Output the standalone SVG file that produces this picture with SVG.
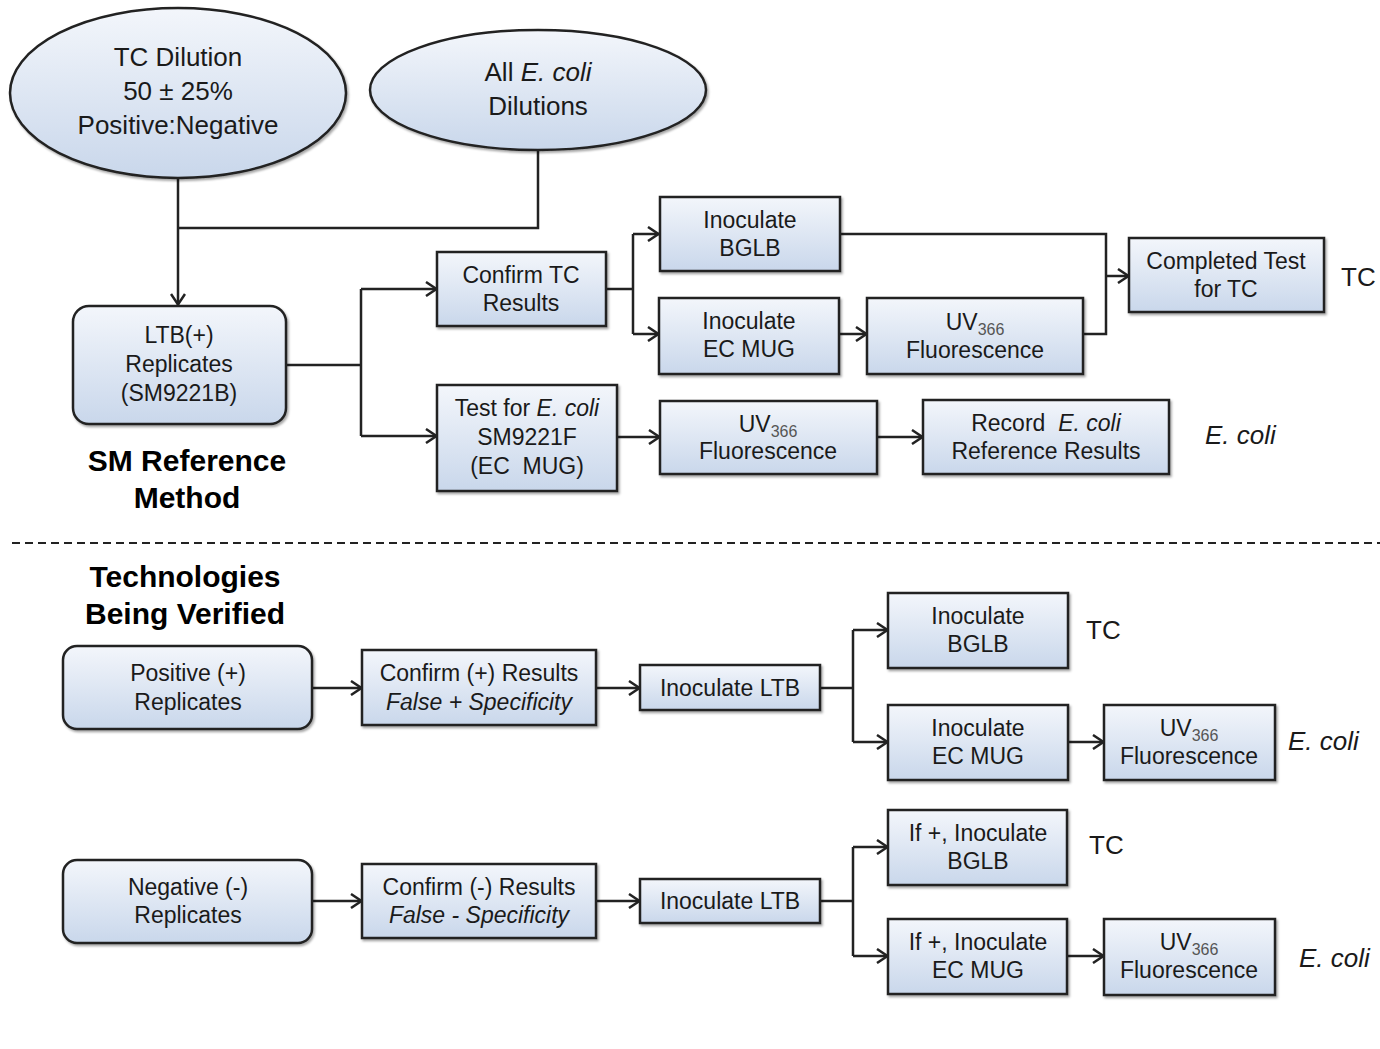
<svg xmlns="http://www.w3.org/2000/svg" width="1380" height="1049" viewBox="0 0 1380 1049">
<defs>
<linearGradient id="g" x1="0" y1="0" x2="0" y2="1">
<stop offset="0" stop-color="#f3f6fb"/>
<stop offset="1" stop-color="#c9d7eb"/>
</linearGradient>
<filter id="sh" x="-10%" y="-10%" width="125%" height="130%">
<feDropShadow dx="1.5" dy="2" stdDeviation="1.2" flood-color="#000" flood-opacity="0.35"/>
</filter>
<marker id="ah" viewBox="0 0 14 16" refX="12.5" refY="8" markerWidth="14" markerHeight="16" markerUnits="userSpaceOnUse" orient="auto">
<path d="M1.5,1 L12,8 L1.5,15" fill="none" stroke="#222" stroke-width="2.5"/>
</marker>
</defs>
<style>
.n{fill:url(#g);stroke:#222;stroke-width:2.5;filter:url(#sh)}
text{font-family:"Liberation Sans",Arial,sans-serif;fill:#1a1a1a;text-anchor:middle}
.t{font-size:23px}
.e{font-size:26px}
.h{font-size:30px;font-weight:bold;fill:#000}
.l{font-size:26px;text-anchor:start}
.c line,.c path{stroke:#222;stroke-width:2.5;fill:none}
.a{marker-end:url(#ah)}
.s{font-size:16px;fill:#555}
</style>
<rect width="1380" height="1049" fill="#fff"/>

<g class="c" id="connectors">
<path d="M178,178 V305" class="a"/>
<path d="M538,150 V228 H178"/>
<path d="M286,365 H361 M361,289 V436"/>
<path d="M361,289 H437" class="a"/>
<path d="M361,436 H437" class="a"/>
<path d="M606,289 H633 M633,234 V334"/>
<path d="M633,234 H659" class="a"/>
<path d="M633,334 H659" class="a"/>
<path d="M839,334 H867" class="a"/>
<path d="M840,234 H1106 V334 H1083"/>
<path d="M1106,276 H1129" class="a"/>
<path d="M617,437 H660" class="a"/>
<path d="M877,437 H923" class="a"/>
<line x1="12" y1="543" x2="1380" y2="543" stroke-dasharray="8,5" style="stroke-width:2"/>
<path d="M312,688 H362" class="a"/>
<path d="M596,688 H640" class="a"/>
<path d="M820,688 H853 M853,630 V742"/>
<path d="M853,630 H888" class="a"/>
<path d="M853,742 H888" class="a"/>
<path d="M1068,742 H1104" class="a"/>
<path d="M312,901 H362" class="a"/>
<path d="M596,901 H640" class="a"/>
<path d="M820,901 H853 M853,847 V956"/>
<path d="M853,847 H888" class="a"/>
<path d="M853,956 H888" class="a"/>
<path d="M1067,956 H1104" class="a"/>
</g>

<g id="tc-dilution"><ellipse class="n" cx="178" cy="93" rx="168" ry="85"/>
<text class="e" x="178" y="66">TC Dilution</text><text class="e" x="178" y="100">50 ± 25%</text><text class="e" x="178" y="134">Positive:Negative</text></g>
<g id="ecoli-dilutions"><ellipse class="n" cx="538" cy="90" rx="168" ry="60"/>
<text class="e" x="538" y="81">All <tspan font-style="italic">E. coli</tspan></text><text class="e" x="538" y="115">Dilutions</text></g>

<g id="ltb"><rect class="n" x="73" y="306" width="213" height="118" rx="16"/>
<text class="t" x="179" y="343">LTB(+)</text><text class="t" x="179" y="372">Replicates</text><text class="t" x="179" y="401">(SM9221B)</text></g>
<g id="sm-label"><text class="h" x="187" y="471">SM Reference</text><text class="h" x="187" y="508">Method</text></g>

<g id="confirm-tc"><rect class="n" x="437" y="252" width="169" height="74"/>
<text class="t" x="521" y="283">Confirm TC</text><text class="t" x="521" y="311">Results</text></g>
<g id="test-ecoli"><rect class="n" x="437" y="385" width="180" height="106"/>
<text class="t" x="527" y="416">Test for <tspan font-style="italic">E. coli</tspan></text><text class="t" x="527" y="445">SM9221F</text><text class="t" x="527" y="474">(EC&#160; MUG)</text></g>
<g id="bglb1"><rect class="n" x="660" y="197" width="180" height="74"/>
<text class="t" x="750" y="228">Inoculate</text><text class="t" x="750" y="256">BGLB</text></g>
<g id="ecmug1"><rect class="n" x="659" y="298" width="180" height="76"/>
<text class="t" x="749" y="329">Inoculate</text><text class="t" x="749" y="357">EC MUG</text></g>
<g id="uv1"><rect class="n" x="867" y="298" width="216" height="76"/>
<text class="t" x="975" y="330">UV<tspan class="s" dy="5">366</tspan></text><text class="t" x="975" y="358">Fluorescence</text></g>
<g id="completed"><rect class="n" x="1129" y="238" width="195" height="74"/>
<text class="t" x="1226" y="269">Completed Test</text><text class="t" x="1226" y="297">for TC</text></g>
<text class="l" x="1341" y="286">TC</text>
<g id="uv2"><rect class="n" x="660" y="401" width="217" height="73"/>
<text class="t" x="768" y="432">UV<tspan class="s" dy="5">366</tspan></text><text class="t" x="768" y="459">Fluorescence</text></g>
<g id="record"><rect class="n" x="923" y="400" width="246" height="74"/>
<text class="t" x="1046" y="431">Record&#160; <tspan font-style="italic">E. coli</tspan></text><text class="t" x="1046" y="459">Reference Results</text></g>
<text class="l" x="1205" y="444" font-style="italic">E. coli</text>

<g id="tech-label"><text class="h" x="185" y="587">Technologies</text><text class="h" x="185" y="624">Being Verified</text></g>

<g id="positive"><rect class="n" x="63" y="646" width="249" height="83" rx="14"/>
<text class="t" x="188" y="681">Positive (+)</text><text class="t" x="188" y="710">Replicates</text></g>
<g id="confirm-pos"><rect class="n" x="362" y="650" width="234" height="75"/>
<text class="t" x="479" y="681">Confirm (+) Results</text><text class="t" x="479" y="710" font-style="italic">False + Specificity</text></g>
<g id="ltb-pos"><rect class="n" x="640" y="665" width="180" height="45"/>
<text class="t" x="730" y="696">Inoculate LTB</text></g>
<g id="bglb-pos"><rect class="n" x="888" y="593" width="180" height="75"/>
<text class="t" x="978" y="624">Inoculate</text><text class="t" x="978" y="652">BGLB</text></g>
<text class="l" x="1086" y="639">TC</text>
<g id="ecmug-pos"><rect class="n" x="888" y="705" width="180" height="75"/>
<text class="t" x="978" y="736">Inoculate</text><text class="t" x="978" y="764">EC MUG</text></g>
<g id="uv-pos"><rect class="n" x="1104" y="705" width="171" height="75"/>
<text class="t" x="1189" y="736">UV<tspan class="s" dy="5">366</tspan></text><text class="t" x="1189" y="764">Fluorescence</text></g>
<text class="l" x="1288" y="750" font-style="italic">E. coli</text>

<g id="negative"><rect class="n" x="63" y="860" width="249" height="83" rx="14"/>
<text class="t" x="188" y="895">Negative (-)</text><text class="t" x="188" y="923">Replicates</text></g>
<g id="confirm-neg"><rect class="n" x="362" y="864" width="234" height="74"/>
<text class="t" x="479" y="895">Confirm (-) Results</text><text class="t" x="479" y="923" font-style="italic">False - Specificity</text></g>
<g id="ltb-neg"><rect class="n" x="640" y="879" width="180" height="44"/>
<text class="t" x="730" y="909">Inoculate LTB</text></g>
<g id="bglb-neg"><rect class="n" x="888" y="810" width="179" height="75"/>
<text class="t" x="978" y="841">If +, Inoculate</text><text class="t" x="978" y="869">BGLB</text></g>
<text class="l" x="1089" y="854">TC</text>
<g id="ecmug-neg"><rect class="n" x="888" y="919" width="179" height="75"/>
<text class="t" x="978" y="950">If +, Inoculate</text><text class="t" x="978" y="978">EC MUG</text></g>
<g id="uv-neg"><rect class="n" x="1104" y="919" width="171" height="76"/>
<text class="t" x="1189" y="950">UV<tspan class="s" dy="5">366</tspan></text><text class="t" x="1189" y="978">Fluorescence</text></g>
<text class="l" x="1299" y="967" font-style="italic">E. coli</text>
</svg>
